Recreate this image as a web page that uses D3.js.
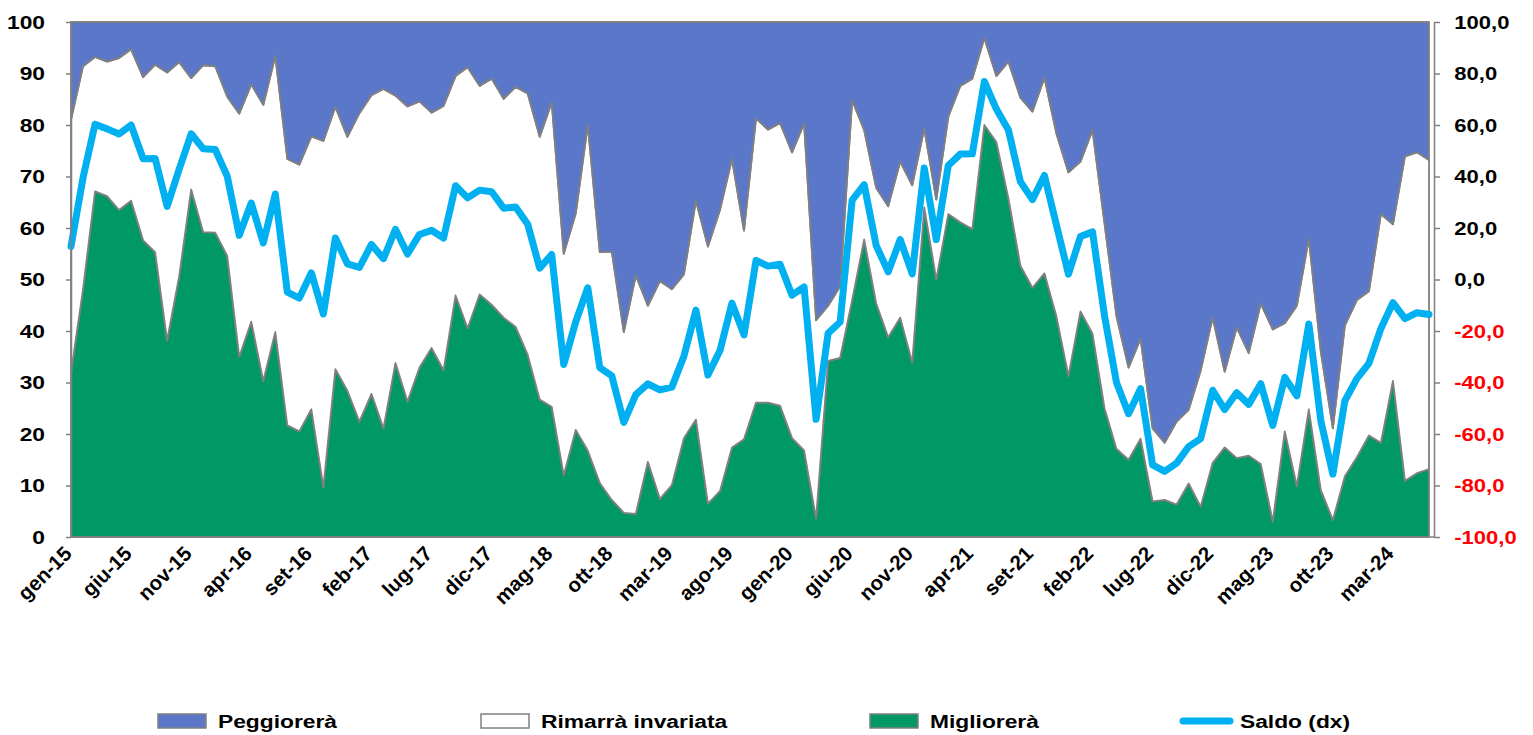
<!DOCTYPE html>
<html>
<head>
<meta charset="utf-8">
<script src="https://cdn.jsdelivr.net/npm/d3@7"></script>
<style>
  body { margin: 0; background: #fff; }
  text { font-family: "Liberation Sans", Arial, sans-serif; font-weight: bold; }
</style>
</head>
<body>
<svg id="chart" width="1533" height="735"></svg>
<script>
"use strict";

// month categories, gen-15 .. giu-24
const mesi = ["gen","feb","mar","apr","mag","giu","lug","ago","set","ott","nov","dic"];
const categorie = d3.range(114).map(i => mesi[i % 12] + "-" + (15 + Math.floor(i / 12)));

// series values (% of answers)
const migliorera = [31.9,48.1,67.1,66.2,63.5,65.3,57.6,55.3,38.2,50.6,67.5,59.2,59.1,54.6,35.0,41.8,30.3,39.8,21.7,20.5,
  24.8,9.7,32.6,28.4,22.4,27.8,21.1,33.8,26.3,32.9,36.7,32.4,46.9,40.5,47.1,45.1,42.6,40.8,35.4,26.7,
  25.3,12.0,20.8,16.8,10.5,7.2,4.7,4.5,14.6,7.4,10.1,19.2,22.8,6.5,8.9,17.4,19.0,26.1,26.1,25.5,
  19.2,16.8,3.6,34.2,34.8,46.0,57.8,45.4,38.8,42.6,33.9,64.0,50.0,62.7,61.1,59.8,80.0,76.7,65.8,52.7,
  48.4,51.2,42.8,31.3,43.8,39.5,25.0,17.1,15.0,19.1,6.9,7.2,6.3,10.4,5.9,14.4,17.4,15.3,15.8,14.2,
  3.0,20.5,9.9,24.8,9.1,3.3,11.8,15.5,19.7,18.3,30.3,10.9,12.4,13.2];
const invariata = [49.1,43.3,26.1,26.1,29.5,29.4,31.7,36.4,52.0,41.6,21.6,32.4,32.3,30.9,47.2,46.1,53.6,53.6,51.7,51.8,
  53.0,67.2,50.9,49.3,59.9,58.0,65.9,51.9,57.3,51.7,45.7,51.3,42.6,50.7,40.5,43.9,42.5,46.6,50.7,51.0,
  59.1,43.0,42.0,63.2,44.8,48.2,35.1,46.3,30.3,42.3,38.0,31.8,42.5,49.9,54.6,56.0,40.5,55.2,53.0,54.9,
  55.5,63.5,38.5,10.7,13.9,38.8,21.2,22.4,25.4,30.3,34.4,15.3,15.5,18.9,26.5,29.2,16.9,12.8,26.5,32.6,
  34.2,38.0,35.5,39.5,29.1,39.5,35.9,25.7,17.9,19.4,14.2,11.1,16.1,14.3,26.4,28.2,14.7,25.4,19.9,31.1,
  37.3,21.0,35.0,33.1,26.9,17.8,29.3,30.5,28.0,44.4,30.4,63.0,62.3,60.0];
const peggiorera = [19.0,8.6,6.8,7.7,7.0,5.3,10.7,8.3,9.8,7.8,10.9,8.4,8.6,14.5,17.8,12.1,16.1,6.6,26.6,27.7,
  22.2,23.1,16.5,22.3,17.7,14.2,13.0,14.3,16.4,15.4,17.6,16.3,10.5,8.8,12.4,11.0,14.9,12.6,13.9,22.3,
  15.6,45.0,37.2,20.0,44.7,44.6,60.2,49.2,55.1,50.3,51.9,49.0,34.7,43.6,36.5,26.6,40.5,18.7,20.9,19.6,
  25.3,19.7,57.9,55.1,51.3,15.2,21.0,32.2,35.8,27.1,31.7,20.7,34.5,18.4,12.4,11.0,3.1,10.5,7.7,14.7,
  17.4,10.8,21.7,29.2,27.1,21.0,39.1,57.2,67.1,61.5,78.9,81.7,77.6,75.3,67.7,57.4,67.9,59.3,64.3,54.7,
  59.7,58.5,55.1,42.1,64.0,78.9,58.9,54.0,52.3,37.3,39.3,26.1,25.3,26.8];
const saldo = [12.9,39.5,60.3,58.5,56.5,60.0,46.9,47.0,28.4,42.8,56.6,50.8,50.5,40.1,17.2,29.7,14.2,33.2,-4.9,-7.2,
  2.6,-13.4,16.1,6.1,4.7,13.6,8.1,19.5,9.9,17.5,19.1,16.1,36.4,31.7,34.7,34.1,27.7,28.2,21.5,4.4,
  9.7,-33.0,-16.4,-3.2,-34.2,-37.4,-55.5,-44.7,-40.5,-42.9,-41.8,-29.8,-11.9,-37.1,-27.6,-9.2,-21.5,7.4,5.2,5.9,
  -6.1,-2.9,-54.3,-20.9,-16.5,30.8,36.8,13.2,3.0,15.5,2.2,43.3,15.5,44.3,48.7,48.8,76.9,66.2,58.1,38.0,
  31.0,40.4,21.1,2.1,16.7,18.5,-14.1,-40.1,-52.1,-42.4,-72.0,-74.5,-71.3,-64.9,-61.8,-43.0,-50.5,-44.0,-48.5,-40.5,
  -56.7,-38.0,-45.2,-17.3,-54.9,-75.6,-47.1,-38.5,-32.6,-19.0,-9.0,-15.2,-12.9,-13.6];

// tick values
const tickSx = d3.range(0, 101, 10);
const tickDx = d3.range(-100, 101, 20);
const serie = [
  { key: "migliorera", nome: "Migliorerà", colore: "#009966" },
  { key: "invariata", nome: "Rimarrà invariata", colore: "#ffffff" },
  { key: "peggiorera", nome: "Peggiorerà", colore: "#5b77c9" }
];

const svg = d3.select("#chart");
const stretch = 1.2;   // the original text looks horizontally stretched
const grigio = "#808080";

const x = d3.scalePoint().domain(categorie).range([71, 1429]);
const ySx = d3.scaleLinear().domain([0, 100]).range([537, 22]);
const yDx = d3.scaleLinear().domain([-100, 100]).range([537, 22]);

// table for the stack
const tabella = categorie.map((c, i) => ({
  cat: c, migliorera: migliorera[i], invariata: invariata[i], peggiorera: peggiorera[i]
}));
const stack = d3.stack().keys(serie.map(s => s.key))(tabella);

const area = d3.area()
  .x(d => x(d.data.cat))
  .y0(d => ySx(d[0]))
  .y1(d => ySx(d[1]));

svg.append("g").selectAll("path")
  .data(stack)
  .enter()
  .append("path")
  .attr("d", area)
  .attr("fill", (d, i) => serie[i].colore)
  .attr("stroke", grigio)
  .attr("stroke-width", 1.8)
  .attr("stroke-linejoin", "round");

// saldo line on right axis
const linea = d3.line()
  .x((d, i) => x(categorie[i]))
  .y(d => yDx(d));

svg.append("path")
  .datum(saldo)
  .attr("d", linea)
  .attr("fill", "none")
  .attr("stroke", "#00b0f0")
  .attr("stroke-width", 7)
  .attr("stroke-linejoin", "round")
  .attr("stroke-linecap", "round");

// left axis
const asseSx = svg.append("g")
  .attr("transform", "translate(71,0)")
  .call(d3.axisLeft(ySx).tickValues(tickSx).tickSize(5).tickSizeOuter(0));
asseSx.selectAll("line, path").attr("stroke", grigio).attr("stroke-width", 1.5);
asseSx.selectAll("text")
  .attr("x", -26 / stretch)
  .attr("transform", `scale(${stretch},1)`)
  .attr("font-size", 19)
  .attr("fill", "#000");

// right axis
const asseDx = svg.append("g")
  .attr("transform", "translate(1434,0)")
  .call(d3.axisRight(yDx).tickValues(tickDx).tickSize(6).tickSizeOuter(0)
    .tickFormat(v => v.toFixed(1).replace(".", ",")));
asseDx.selectAll("line, path").attr("stroke", grigio).attr("stroke-width", 1.5);
asseDx.selectAll("text")
  .attr("x", 21 / stretch)
  .attr("transform", `scale(1.16,1)`)
  .attr("font-size", 19)
  .attr("fill", d => d < 0 ? "#ff0000" : "#000");

// bottom axis line
svg.append("line")
  .attr("x1", 71).attr("x2", 1434)
  .attr("y1", 537).attr("y2", 537)
  .attr("stroke", grigio).attr("stroke-width", 1.5);

// category labels every 5 months
svg.append("g").selectAll("text")
  .data(categorie.filter((c, i) => i % 5 === 0))
  .enter()
  .append("text")
  .attr("transform", d => `translate(${x(d) + 2},555) rotate(-45)`)
  .attr("text-anchor", "end")
  .attr("font-size", 20.5)
  .text(d => d);

// legend
const legenda = svg.append("g");
const voci = [
  { nome: "Peggiorerà", colore: "#5b77c9", x: 158, tipo: "area" },
  { nome: "Rimarrà invariata", colore: "#ffffff", x: 481, tipo: "area" },
  { nome: "Migliorerà", colore: "#009966", x: 870, tipo: "area" },
  { nome: "Saldo (dx)", colore: "#00b0f0", x: 1180, tipo: "linea" }
];
voci.forEach(v => {
  if (v.tipo === "area") {
    legenda.append("rect")
      .attr("x", v.x).attr("y", 714).attr("width", 48).attr("height", 14)
      .attr("fill", v.colore).attr("stroke", grigio).attr("stroke-width", 1.5);
  } else {
    legenda.append("line")
      .attr("x1", v.x + 3).attr("x2", v.x + 50).attr("y1", 721).attr("y2", 721)
      .attr("stroke", v.colore).attr("stroke-width", 7).attr("stroke-linecap", "round");
  }
  legenda.append("text")
    .attr("transform", `translate(${v.x + 60},728) scale(${stretch},1)`)
    .attr("font-size", 19)
    .text(v.nome);
});
</script>
</body>
</html>
